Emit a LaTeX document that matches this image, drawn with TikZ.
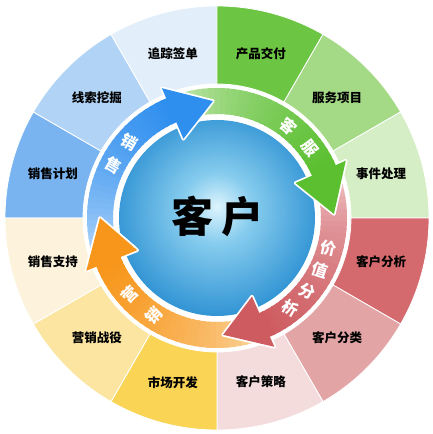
\documentclass[tikz,border=0pt]{standalone}
\usepackage{fontspec}
\newfontfamily\cjk{Noto Sans CJK SC}
\definecolor{segBa}{HTML}{79B4F0}
\definecolor{segBb}{HTML}{B0D3F6}
\definecolor{segBc}{HTML}{E2EFFB}
\definecolor{segGa}{HTML}{6DC544}
\definecolor{segGb}{HTML}{A4DA86}
\definecolor{segGc}{HTML}{D5EEC6}
\definecolor{segRa}{HTML}{D56A6E}
\definecolor{segRb}{HTML}{E3A4A6}
\definecolor{segRc}{HTML}{F4DCDD}
\definecolor{segYa}{HTML}{F9D455}
\definecolor{segYb}{HTML}{FBE5A0}
\definecolor{segYc}{HTML}{FDF3DC}
\definecolor{arrB}{HTML}{2F8FEF}
\definecolor{arrBl}{HTML}{D2E6FA}
\definecolor{arrG}{HTML}{5BBF30}
\definecolor{arrGl}{HTML}{D4EDC6}
\definecolor{arrR}{HTML}{CE5B60}
\definecolor{arrRl}{HTML}{F2CFD1}
\definecolor{arrO}{HTML}{F7961A}
\definecolor{arrOl}{HTML}{FCE0B8}
\definecolor{ctrA}{HTML}{DDF4FD}
\definecolor{ctrB}{HTML}{86CCEE}
\definecolor{ctrC}{HTML}{2F92D3}
\definecolor{ctrD}{HTML}{1462AB}
\pgfdeclareradialshading{ctrball}{\pgfpoint{0bp}{3bp}}{color(0bp)=(ctrA); color(9bp)=(ctrB); color(27bp)=(ctrC); color(50bp)=(ctrD)}
\newcommand\ringpart[4]{(#1:#3) arc[start angle=#1, end angle=#2, radius=#3] -- (#2:#4) arc[start angle=#2, end angle=#1, radius=#4] -- cycle}
\newcommand\arrowshape[3]{(#1:130) arc[start angle=#1, end angle=#2, radius=130] -- (#2:141) -- (#3:117) -- (#2:86) -- (#2:104) arc[start angle=#2, end angle=#1, radius=104] -- cycle}
\newcommand\arrowtip[3]{(#2:141) -- (#3:117) -- (#2:86) -- cycle}
\tikzset{
  segline/.style={draw=white, line width=0.8pt},
  rim/.style={draw=white, line width=3.5pt, line join=round},
  seglabel/.style={font=\cjk\bfseries\fontsize{12.5}{14}\selectfont, text=black, inner sep=0pt},
  arrlabel/.style={font=\cjk\bfseries\fontsize{16}{17}\selectfont, text=white, inner sep=0pt},
  ctrtext/.style={font=\cjk\bfseries\fontsize{42}{44}\selectfont, text=black, inner sep=0pt},
}
\begin{document}
\begin{tikzpicture}[x=1pt,y=1pt]
  \useasboundingbox (-217,-216) rectangle (216,218);
  \foreach \a/\col [evaluate=\a as \e using \a+30] in {150/segBa,120/segBb,90/segBc,60/segGa,30/segGb,0/segGc,-30/segRa,-60/segRb,-90/segRc,240/segYa,210/segYb,180/segYc}
    \filldraw[segline, fill=\col] \ringpart{\a}{\e}{212}{134};
  \shade[shading=ctrball] (0,0) circle (98);
  \foreach \sa/\ba/\ta/\hc/\tc in {-70/-158/-180/arrO/arrOl, 18/-66/-87/arrR/arrRl, 108/24/2/arrG/arrGl, 198/113/92/arrB/arrBl} {
    \draw[rim] \arrowshape{\sa}{\ba}{\ta};
    \fill[\hc] \arrowtip{\sa}{\ba}{\ta};
    \foreach \k in {0,...,29} {
      \pgfmathsetmacro\ang{\sa+(\ba-\sa)*\k/30}
      \pgfmathsetmacro\angn{\sa+(\ba-\sa)*(\k+1.4)/30}
      \pgfmathtruncatemacro\pct{100*sqrt(\k/29)}
      \fill[\hc!\pct!\tc] \ringpart{\ang}{\angn}{130}{104};
    }
  }
  \begin{scope}
    \clip (0,0) -- (176:160) arc[start angle=176, end angle=199.5, radius=160] -- cycle;
    \draw[rim] \arrowtip{-70}{-158}{-180};
    \fill[arrO] \arrowtip{-70}{-158}{-180};
  \end{scope}
  \node[ctrtext] (kehu) at (1,2) {客\hspace{8pt}户};
  \foreach \a/\r/\ch [count=\i] in {139/-30/销,153/-30/售,52/-42/客,37/-52/服,-15/-12/价,-27/-18/值,-39/-24/分,-51/-30/析,221/45/营,237/45/销}
    \node[arrlabel, rotate=\r] (mark\i) at (\a:116) {\ch};
  \foreach \a/\lbl [count=\i] in {165/销售计划,135/线索挖掘,105/追踪签单,75/产品交付,45/服务项目,15/事件处理,-15/客户分析,-45/客户分类,-75/客户策略,-105/市场开发,-135/营销战役,-165/销售支持}
    \node[seglabel] (seg\i) at (\a:170) {\lbl};
\end{tikzpicture}
\end{document}
